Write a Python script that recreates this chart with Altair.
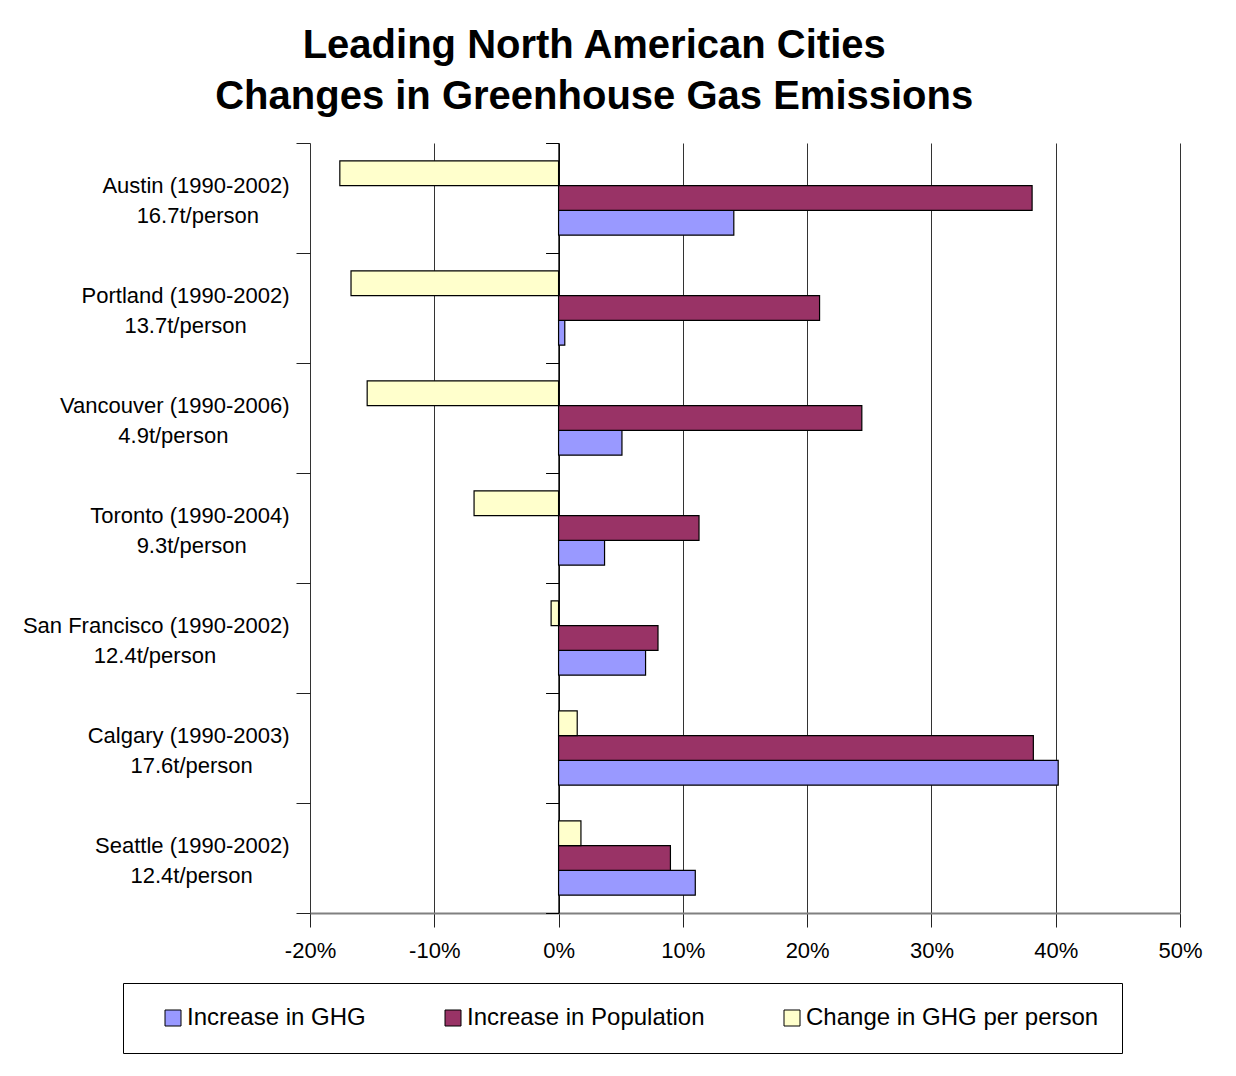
import altair as alt
import pandas as pd

# ---------------- data ----------------
cities = [
    "Austin (1990-2002)",
    "Portland (1990-2002)",
    "Vancouver (1990-2006)",
    "Toronto (1990-2004)",
    "San Francisco (1990-2002)",
    "Calgary (1990-2003)",
    "Seattle (1990-2002)",
]
per_person = [
    "16.7t/person",
    "13.7t/person",
    "4.9t/person",
    "9.3t/person",
    "12.4t/person",
    "17.6t/person",
    "12.4t/person",
]
series = ["Increase in GHG", "Increase in Population", "Change in GHG per person"]
increase_ghg = [14.1, 0.5, 5.1, 3.7, 7.0, 40.2, 11.0]
increase_population = [38.1, 21.0, 24.4, 11.3, 8.0, 38.2, 9.0]
change_ghg_per_person = [-17.6, -16.7, -15.4, -6.8, -0.6, 1.5, 1.8]
series_colors = ["#9999FF", "#993366", "#FFFFCC"]
x_ticks = [-20, -10, 0, 10, 20, 30, 40, 50]
title_lines = ["Leading North American Cities", "Changes in Greenhouse Gas Emissions"]

# ------------- helpers: centre 2nd label line under the 1st (Excel style) -------------
ADV = {" ": 278, "(": 333, ")": 333, "-": 333, ".": 278, "/": 278,
       "A": 667, "C": 722, "F": 611, "P": 667, "S": 667, "T": 611, "V": 667,
       "a": 556, "c": 500, "d": 556, "e": 556, "g": 556, "i": 222, "l": 222,
       "n": 556, "o": 556, "p": 556, "r": 333, "s": 500, "t": 278, "u": 556,
       "v": 500, "y": 500, "m": 833}


def tw(s):
    return sum(ADV.get(ch, 556) for ch in s)


labels = []
for c, p in zip(cities, per_person):
    pad = max(0, round((tw(c) - tw(p)) / 2 / 278))
    labels.append(c + "|" + p + "\u00a0" * pad + "\u200b")

rows = []
for i, lab in enumerate(labels):
    for s, vals in zip(series, [increase_ghg, increase_population, change_ghg_per_person]):
        rows.append({"city": lab, "series": s, "value": vals[i]})
df = pd.DataFrame(rows)
df_cat = pd.DataFrame({"city": labels})

W, H = 870, 770
x_min, x_max = -20, 50
zero_offset = -(0 - x_min) / (x_max - x_min) * W

FONT = "Liberation Sans"

y_scale = alt.Scale(paddingInner=0, paddingOuter=0)

bars = alt.Chart(df).mark_bar(stroke="black", strokeWidth=1.2, opacity=1).encode(
    x=alt.X(
        "value:Q",
        scale=alt.Scale(domain=[x_min, x_max], nice=False, zero=False),
        axis=alt.Axis(
            values=x_ticks,
            labelExpr="datum.value + '%'",
            title=None,
            grid=True,
            gridColor="#333333",
            gridWidth=1,
            domainColor="#808080",
            domainWidth=2,
            tickColor="#222222",
            tickSize=14,
            labelFont=FONT,
            labelFontSize=22,
            labelColor="black",
            labelPadding=13,
            labelFlush=False,
            labelOverlap=False,
        ),
    ),
    y=alt.Y(
        "city:N",
        sort=labels,
        scale=y_scale,
        axis=alt.Axis(
            orient="left",
            title=None,
            domain=False,
            ticks=True,
            tickBand="extent",
            tickSize=14,
            tickColor="#222222",
            labelExpr="split(datum.label, '|')",
            labelAlign="right",
            labelBaseline="middle",
            labelFont=FONT,
            labelFontSize=22,
            labelLineHeight=30,
            labelColor="black",
            labelPadding=7,
            labelOffset=-13,
            labelLimit=0,
            grid=False,
        ),
    ),
    yOffset=alt.YOffset(
        "series:N",
        sort=["Change in GHG per person", "Increase in Population", "Increase in GHG"],
        scale=alt.Scale(paddingInner=0, paddingOuter=0.72),
    ),
    color=alt.Color(
        "series:N",
        scale=alt.Scale(domain=series, range=series_colors),
        legend=alt.Legend(
            orient="none",
            legendX=-187,
            legendY=840,
            direction="horizontal",
            columns=3,
            title=None,
            symbolType="square",
            symbolSize=256,
            symbolStrokeColor="black",
            symbolStrokeWidth=1,
            symbolOpacity=1,
            symbolOffset=15,
            labelFont=FONT,
            labelFontSize=24,
            labelColor="black",
            labelOffset=2,
            labelLimit=0,
            columnPadding=60,
            padding=23,
            strokeColor="black",
            fillColor="white",
        ),
    ),
)

zero_axis = alt.Chart(df_cat).mark_text(text="").encode(
    y=alt.Y(
        "city:N",
        sort=labels,
        scale=y_scale,
        axis=alt.Axis(
            orient="left",
            offset=zero_offset,
            title=None,
            labels=False,
            domain=True,
            domainColor="black",
            domainWidth=1.5,
            ticks=True,
            tickBand="extent",
            tickSize=13,
            tickColor="black",
            grid=False,
        ),
    )
)

chart = (
    alt.layer(bars, zero_axis)
    .resolve_axis(y="independent")
    .properties(
        width=W,
        height=H,
        title=alt.TitleParams(
            title_lines,
            font=FONT,
            fontSize=40,
            fontWeight="bold",
            color="black",
            lineHeight=51,
            anchor="middle",
            frame="bounds",
            offset=15,
            dx=-18,
        ),
        padding={"left": 14, "top": 18, "right": 10, "bottom": 4},
        background="white",
    )
    .configure_view(stroke=None)
)

chart.save("out.html", embed_options={"renderer": "svg", "actions": False})
